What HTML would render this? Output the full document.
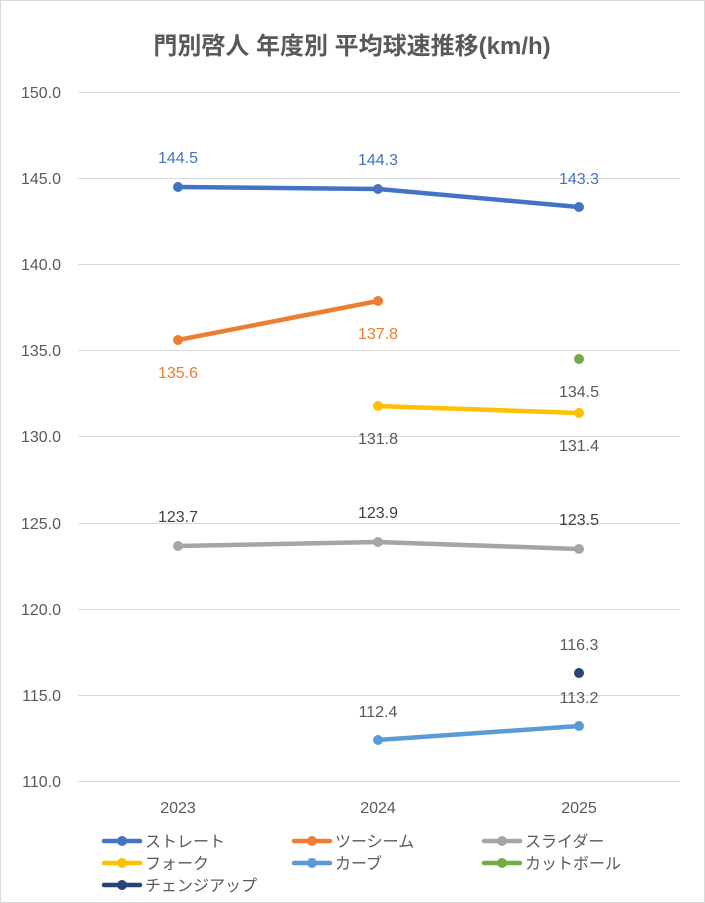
<!DOCTYPE html>
<html><head><meta charset="utf-8"><style>
html,body{margin:0;padding:0;background:#fff}
svg{display:block}
text{font-family:"Liberation Sans","Noto Sans CJK JP",sans-serif}
</style></head><body>
<svg width="705" height="903" viewBox="0 0 705 903" xmlns="http://www.w3.org/2000/svg">
<rect x="0.5" y="0.5" width="704" height="902" fill="#fff" stroke="#d9d9d9"/>
<text x="352" y="54" text-anchor="middle" font-size="24" font-weight="bold" fill="#595959">門別啓人 年度別 平均球速推移(km/h)</text>
<g stroke="#d9d9d9" stroke-width="1">
<line x1="78" x2="680" y1="92.5" y2="92.5"/><line x1="78" x2="680" y1="178.5" y2="178.5"/>
<line x1="78" x2="680" y1="264.5" y2="264.5"/><line x1="78" x2="680" y1="350.5" y2="350.5"/>
<line x1="78" x2="680" y1="436.5" y2="436.5"/><line x1="78" x2="680" y1="523.5" y2="523.5"/>
<line x1="78" x2="680" y1="609.5" y2="609.5"/><line x1="78" x2="680" y1="695.5" y2="695.5"/>
<line x1="78" x2="680" y1="781.5" y2="781.5"/>
</g>
<g font-size="16" fill="#595959" text-anchor="end">
<text x="61" y="98">150.0</text><text x="61" y="184">145.0</text><text x="61" y="270">140.0</text>
<text x="61" y="356">135.0</text><text x="61" y="442">130.0</text><text x="61" y="529">125.0</text>
<text x="61" y="615">120.0</text><text x="61" y="701">115.0</text><text x="61" y="787">110.0</text>
</g>
<g font-size="16" fill="#595959" text-anchor="middle">
<text x="178" y="813">2023</text><text x="378" y="813">2024</text><text x="579" y="813">2025</text>
</g>
<g stroke-width="4.5" fill="none" stroke-linecap="round">
<polyline points="178,187 378,189 579,207" stroke="#4472c4"/>
<polyline points="178,340 378,301" stroke="#ed7d31"/>
<polyline points="178,546 378,542 579,549" stroke="#a5a5a5"/>
<polyline points="378,406 579,413" stroke="#ffc000"/>
<polyline points="378,740 579,726" stroke="#5b9bd5"/>
</g>
<g>
<circle cx="178" cy="187" r="5" fill="#4472c4"/><circle cx="378" cy="189" r="5" fill="#4472c4"/><circle cx="579" cy="207" r="5" fill="#4472c4"/>
<circle cx="178" cy="340" r="5" fill="#ed7d31"/><circle cx="378" cy="301" r="5" fill="#ed7d31"/>
<circle cx="178" cy="546" r="5" fill="#a5a5a5"/><circle cx="378" cy="542" r="5" fill="#a5a5a5"/><circle cx="579" cy="549" r="5" fill="#a5a5a5"/>
<circle cx="378" cy="406" r="5" fill="#ffc000"/><circle cx="579" cy="413" r="5" fill="#ffc000"/>
<circle cx="378" cy="740" r="5" fill="#5b9bd5"/><circle cx="579" cy="726" r="5" fill="#5b9bd5"/>
<circle cx="579" cy="359" r="5" fill="#70ad47"/>
<circle cx="579" cy="673" r="5" fill="#264478"/>
</g>
<g font-size="16" text-anchor="middle">
<text x="178" y="163" fill="#4472c4">144.5</text><text x="378" y="165" fill="#4472c4">144.3</text><text x="579" y="184" fill="#4472c4">143.3</text>
<text x="178" y="378" fill="#ed7d31">135.6</text><text x="378" y="339" fill="#ed7d31">137.8</text>
<text x="178" y="522" fill="#404040">123.7</text><text x="378" y="518" fill="#404040">123.9</text><text x="579" y="525" fill="#404040">123.5</text>
<text x="378" y="444" fill="#595959">131.8</text><text x="579" y="451" fill="#595959">131.4</text>
<text x="579" y="397" fill="#595959">134.5</text>
<text x="378" y="717" fill="#595959">112.4</text><text x="579" y="703" fill="#595959">113.2</text>
<text x="579" y="650" fill="#595959">116.3</text>
</g>
<g stroke-width="4.5" stroke-linecap="round">
<line x1="104" x2="140" y1="841" y2="841" stroke="#4472c4"/><circle cx="122" cy="841" r="5" fill="#4472c4"/>
<line x1="294" x2="330" y1="841" y2="841" stroke="#ed7d31"/><circle cx="312" cy="841" r="5" fill="#ed7d31"/>
<line x1="484" x2="520" y1="841" y2="841" stroke="#a5a5a5"/><circle cx="502" cy="841" r="5" fill="#a5a5a5"/>
<line x1="104" x2="140" y1="863" y2="863" stroke="#ffc000"/><circle cx="122" cy="863" r="5" fill="#ffc000"/>
<line x1="294" x2="330" y1="863" y2="863" stroke="#5b9bd5"/><circle cx="312" cy="863" r="5" fill="#5b9bd5"/>
<line x1="484" x2="520" y1="863" y2="863" stroke="#70ad47"/><circle cx="502" cy="863" r="5" fill="#70ad47"/>
<line x1="104" x2="140" y1="885" y2="885" stroke="#264478"/><circle cx="122" cy="885" r="5" fill="#264478"/>
</g>
<g font-size="16" fill="#595959">
<text x="145" y="847">ストレート</text><text x="335" y="847">ツーシーム</text><text x="525" y="847">スライダー</text>
<text x="145" y="869">フォーク</text><text x="335" y="869">カーブ</text><text x="525" y="869">カットボール</text>
<text x="145" y="891">チェンジアップ</text>
</g>
</svg>
</body></html>
